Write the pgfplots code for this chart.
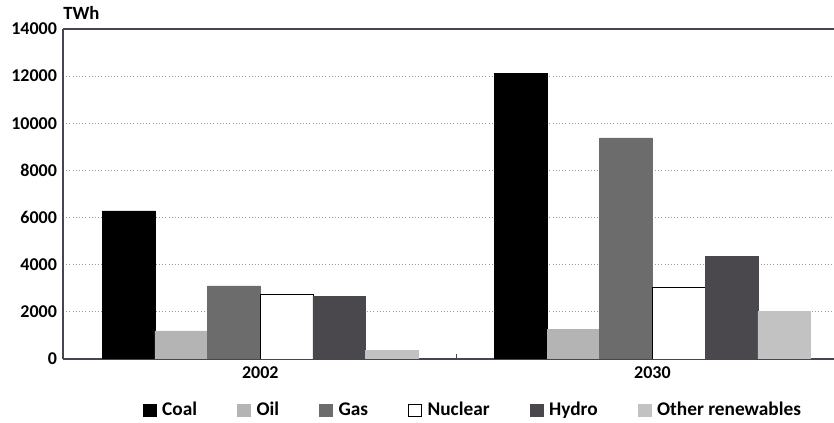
\documentclass[border=0pt]{standalone}
\usepackage{pgfplots}
\pgfplotsset{compat=1.18}
\usepackage{fontspec}
\setmainfont{Carlito}
\definecolor{axiscol}{HTML}{4A4452}
\definecolor{oilc}{HTML}{B4B4B4}
\definecolor{gasc}{HTML}{6C6C6C}
\definecolor{hydroc}{HTML}{4A484C}
\definecolor{renc}{HTML}{C2C2C2}
\pgfplotsset{
  sqlegend/.style={legend image code/.code={\draw[##1, line width=0.6pt] (0pt,-4.5pt) rectangle (10pt,4.5pt);}}
}
\begin{document}
\begin{tikzpicture}
\begin{axis}[
  at={(0,0)}, anchor=south west,
  scale only axis, width=578.25pt, height=247.5pt,
  clip mode=individual,
  ybar=0pt, bar width=0.1344,
  xmin=-0.503, xmax=1.463, ymin=0, ymax=14000,
  xtick={0,1}, xticklabels={2002,2030},
  ytick={0,2000,...,14000},
  axis lines*=left,
  axis line style={axiscol, line width=1.1pt, -},
  major tick length=0pt,
  extra x ticks={0.5}, extra x tick labels={},
  extra x tick style={major tick length=3.5pt, tick align=inside, tick style={axiscol, line width=0.8pt}},
  ymajorgrids, grid style={dotted, gray!80, line width=0.7pt},
  scaled y ticks=false,
  yticklabel style={/pgf/number format/1000 sep={}, xshift=-1pt},
  /pgf/number format/assume math mode=true,
  tick label style={font=\bfseries\fontsize{13.5}{14}\selectfont},
  xticklabel style={yshift=-2pt},
  legend style={at={(0.532,-0.155)}, anchor=center, draw=none, fill=none,
    legend columns=6, font=\bfseries\fontsize{14.5}{15}\selectfont,
    /tikz/every even column/.append style={column sep=28pt},
    /tikz/every odd column/.append style={column sep=2pt}},
]
\addplot[fill=black, draw=black, sqlegend] coordinates {(0,6280) (1,12120)};
\addlegendentry{Coal}
\addplot[fill=oilc, draw=oilc, sqlegend] coordinates {(0,1190) (1,1260)};
\addlegendentry{Oil}
\addplot[fill=gasc, draw=gasc, sqlegend] coordinates {(0,3100) (1,9380)};
\addlegendentry{Gas}
\addplot[fill=white, draw=black, line width=0.6pt, sqlegend] coordinates {(0,2720) (1,3050)};
\addlegendentry{Nuclear}
\addplot[fill=hydroc, draw=hydroc, sqlegend] coordinates {(0,2670) (1,4350)};
\addlegendentry{Hydro}
\addplot[fill=renc, draw=renc, sqlegend] coordinates {(0,380) (1,2010)};
\addlegendentry{Other renewables}
\draw[axiscol, line width=1.1pt] (rel axis cs:0,1) -- (rel axis cs:1,1);
\end{axis}
\node[anchor=base west, inner sep=0pt, font=\bfseries\fontsize{14}{15}\selectfont] at (0pt,254.25pt) {TWh};
\pgfresetboundingbox
\path (-47.25pt,-48pt) rectangle (578.25pt,269.25pt);
\end{tikzpicture}
\end{document}
